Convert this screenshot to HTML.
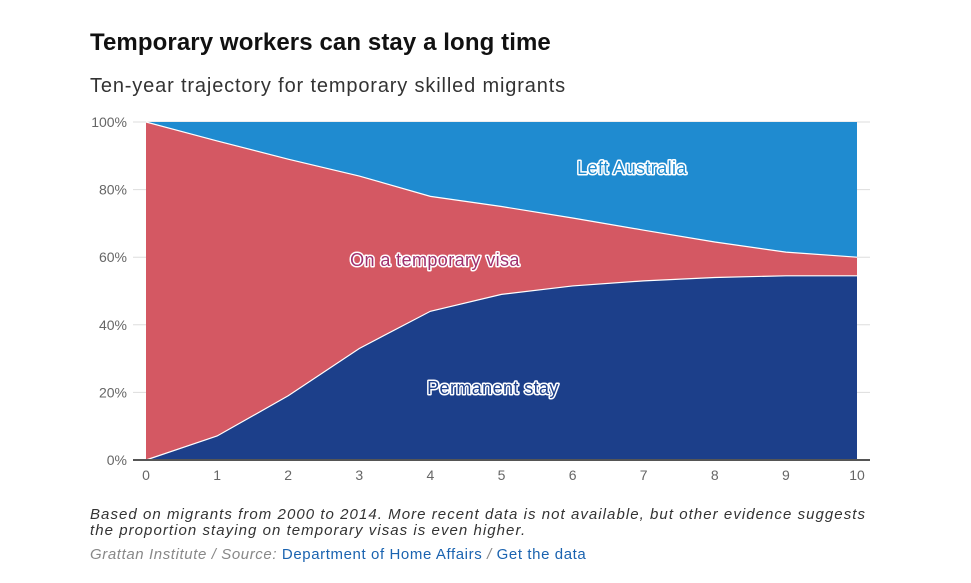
<!DOCTYPE html>
<html><head><meta charset="utf-8"><style>
body{margin:0;background:#fff;font-family:"Liberation Sans",sans-serif;}
#wrap{position:relative;width:971px;height:583px;overflow:hidden;}
h1{position:absolute;left:90px;top:29px;margin:0;font-size:24px;font-weight:bold;color:#111;letter-spacing:0.1px}
.sub{position:absolute;left:90px;top:75px;font-size:20px;color:#333;letter-spacing:0.85px}
.note{position:absolute;left:90px;top:507px;font-size:15px;font-style:italic;color:#333;line-height:16px;width:880px;letter-spacing:1.05px;white-space:nowrap}
.src{position:absolute;left:90px;top:546px;font-size:15px;color:#888;font-style:italic;letter-spacing:0.6px}
.src a{color:#1a63b0;font-style:normal;text-decoration:none}
svg{position:absolute;left:0;top:0}
.lab{font-size:18px;letter-spacing:0.4px;paint-order:stroke;stroke:#fff;stroke-width:3px;stroke-linejoin:round}
</style></head><body>
<div id="wrap">
<h1>Temporary workers can stay a long time</h1>
<div class="sub">Ten-year trajectory for temporary skilled migrants</div>
<svg id="chart" width="971" height="583"></svg>
<div class="note">Based on migrants from 2000 to 2014. More recent data is not available, but other evidence suggests<br>the proportion staying on temporary visas is even higher.</div>
<div class="src">Grattan Institute / Source: <a>Department of Home Affairs</a> / <a>Get the data</a></div>
</div>
<script>
const years=[0,1,2,3,4,5,6,7,8,9,10];
const permanent=[0,7.1,19,33,44,49,51.5,53,54,54.5,54.5];
const temporary=[100,87.3,70,51,34,26,20.1,15,10.5,7,5.5];
const leftAus=[0,5.6,11,16,22,25,28.4,32,35.5,38.5,40];
const yTicks=[0,20,40,60,80,100];
const NS='http://www.w3.org/2000/svg';
const svg=document.getElementById('chart');
const x=v=>146+v*71.1, y=v=>460-v*3.38;
function mk(t,a){const e=document.createElementNS(NS,t);for(const k in a)e.setAttribute(k,a[k]);svg.appendChild(e);return e;}
yTicks.forEach(t=>{
 const g=mk('line',{x1:133,x2:870,y1:y(t),y2:y(t),stroke:'#ddd','stroke-width':1});
 
 
 const l=mk('text',{x:127,y:y(t)+5,'text-anchor':'end','font-size':14,fill:'#666'});l.textContent=t+'%';
 
 
});
const top1=permanent, top2=permanent.map((p,i)=>p+temporary[i]), top3=top2.map((p,i)=>p+leftAus[i]);
function area(lo,hi,col,name){
 let d='M'+years.map((v,i)=>x(v)+','+y(hi[i])).join('L');
 for(let i=years.length-1;i>=0;i--)d+='L'+x(years[i])+','+y(lo[i]);
 const p=mk('path',{d:d+'Z',fill:col});
 
 
}
const zero=years.map(()=>0);
area(top2,top3,'#1f8bd0','area-left-australia');
area(top1,top2,'#d45863','area-temporary-visa');
area(zero,top1,'#1c3f8a','area-permanent-stay');
[top1,top2].forEach((t,k)=>{
 const l=mk('polyline',{points:years.map((v,i)=>x(v)+','+y(t[i])).join(' '),fill:'none',stroke:'#fff','stroke-width':1.2});
 
 
});
const ax=mk('line',{x1:133,x2:870,y1:460,y2:460,stroke:'#555','stroke-width':2});


years.forEach(v=>{
 const t=mk('text',{x:x(v),y:480,'text-anchor':'middle','font-size':14,fill:'#666'});t.textContent=v;
 
 
});
[['Left Australia',632,174,'#1f8bd0','label-left-australia'],['On a temporary visa',435,266,'#a0306e','label-temporary-visa'],['Permanent stay',493,394,'#1c3f8a','label-permanent-stay']].forEach(a=>{
 const t=mk('text',{x:a[1],y:a[2],'text-anchor':'middle',fill:a[3],class:'lab'});t.textContent=a[0];
 
 
});
</script>
</body></html>
